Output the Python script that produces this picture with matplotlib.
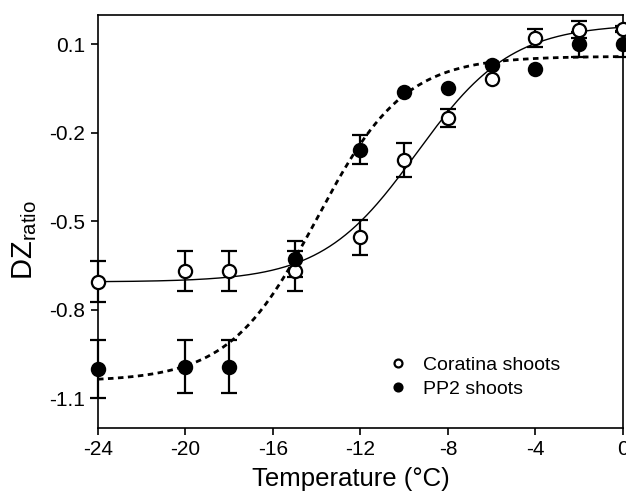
import numpy as np
import matplotlib
matplotlib.use("Agg")
import matplotlib.pyplot as plt

plt.rcParams['font.family'] = ['Liberation Sans', 'DejaVu Sans']
plt.rcParams['mathtext.fontset'] = 'custom'
plt.rcParams['mathtext.rm'] = 'Liberation Sans'
plt.rcParams['axes.unicode_minus'] = False

# data
temp = [-24, -20, -18, -15, -12, -10, -8, -6, -4, -2, 0]
coratina = [-0.704, -0.667, -0.667, -0.667, -0.554, -0.292, -0.149, -0.018, 0.121, 0.150, 0.153]
coratina_err = [0.069, 0.068, 0.068, 0.068, 0.060, 0.058, 0.029, 0.0, 0.030, 0.029, 0.010]
pp2 = [-0.999, -0.992, -0.992, -0.627, -0.256, -0.061, -0.047, 0.029, 0.018, 0.100, 0.102]
pp2_err = [0.098, 0.090, 0.090, 0.060, 0.049, 0.0, 0.0, 0.0, 0.0, 0.043, 0.043]

# sigmoid fit parameters (bottom, top, x50, slope)
coratina_fit = (-0.705, 0.170, -9.43, 2.17)
pp2_fit = (-1.042, 0.060, -14.0, 2.0)

xticks = [-24, -20, -16, -12, -8, -4, 0]
yticks = [0.1, -0.2, -0.5, -0.8, -1.1]
yticklabels = ['0.1', '-0.2', '-0.5', '-0.8', '-1.1']


def sigmoid(x, p):
    bottom, top, x50, s = p
    return bottom + (top - bottom) / (1 + np.exp((x50 - x) / s))


fig = plt.figure(figsize=(6.26, 4.95), dpi=100)
ax = fig.add_axes([0.1565, 0.1354, 0.8387, 0.8343])

xs = np.linspace(-24, 0, 300)
ax.plot(xs, sigmoid(xs, coratina_fit), color='black', lw=1.0, zorder=2)
ax.plot(xs, sigmoid(xs, pp2_fit), color='black', lw=2.0, ls=(0, (2, 1.6)), zorder=2)

t = np.array(temp)
for y, e in [(coratina, coratina_err), (pp2, pp2_err)]:
    y = np.array(y)
    e = np.array(e)
    m = e > 0
    ax.errorbar(t[m], y[m], yerr=e[m], fmt='none', ecolor='black', elinewidth=1.6,
                capsize=5.5, capthick=1.6, zorder=3, clip_on=False)

ax.plot(temp, coratina, 'o', ms=9.5, mfc='white', mec='black', mew=1.6,
        label='Coratina shoots', zorder=4, clip_on=False)
ax.plot(temp, pp2, 'o', ms=9.5, mfc='black', mec='black', mew=1.6,
        label='PP2 shoots', zorder=5, clip_on=False)

ax.set_xlim(-24, 0)
ax.set_ylim(-1.2, 0.2)
ax.set_xticks(xticks)
ax.set_yticks(yticks)
ax.set_yticklabels(yticklabels)
ax.tick_params(direction='out', length=5, width=1.2, labelsize=15, pad=4)
for sp in ax.spines.values():
    sp.set_linewidth(1.2)

ax.set_xlabel('Temperature (°C)', fontsize=18.5)
ax.xaxis.set_label_coords(0.482, -0.095)
ax.set_ylabel(r'DZ$_{\mathrm{ratio}}$', fontsize=21)
ax.yaxis.set_label_coords(-0.112, 0.455)

fig.legend(loc='center left', bbox_to_anchor=(0.605, 0.238), frameon=False,
           fontsize=14, markerscale=0.6, handlelength=1.0, handletextpad=0.8,
           borderpad=0, labelspacing=0.3)

fig.savefig('out.png', dpi=100)
